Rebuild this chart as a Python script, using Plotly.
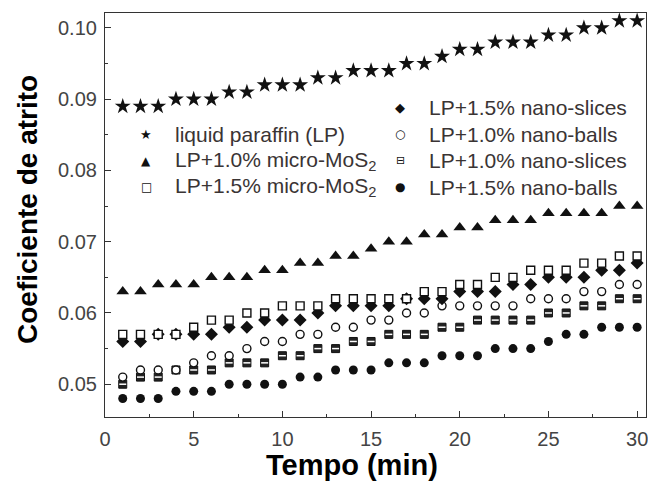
import plotly.graph_objects as go

# ---------------- data ----------------
tempo = list(range(1, 31))

liquid_paraffin = [0.089, 0.089, 0.089, 0.090, 0.090, 0.090, 0.091, 0.091, 0.092, 0.092,
                   0.092, 0.093, 0.093, 0.094, 0.094, 0.094, 0.095, 0.095, 0.096, 0.097,
                   0.097, 0.098, 0.098, 0.098, 0.099, 0.099, 0.100, 0.100, 0.101, 0.101]

micro_10 = [0.063, 0.063, 0.064, 0.064, 0.064, 0.065, 0.065, 0.065, 0.066, 0.066,
            0.067, 0.067, 0.068, 0.068, 0.069, 0.070, 0.070, 0.071, 0.071, 0.072,
            0.072, 0.073, 0.073, 0.073, 0.074, 0.074, 0.074, 0.074, 0.075, 0.075]

micro_15 = [0.057, 0.057, 0.057, 0.057, 0.058, 0.059, 0.059, 0.060, 0.060, 0.061,
            0.061, 0.061, 0.062, 0.062, 0.062, 0.062, 0.062, 0.063, 0.063, 0.064,
            0.064, 0.065, 0.065, 0.066, 0.066, 0.066, 0.067, 0.067, 0.068, 0.068]

slices_15 = [0.056, 0.056, 0.057, 0.057, 0.057, 0.057, 0.058, 0.058, 0.059, 0.059,
             0.059, 0.060, 0.061, 0.061, 0.061, 0.061, 0.062, 0.062, 0.062, 0.063,
             0.063, 0.063, 0.064, 0.064, 0.065, 0.065, 0.065, 0.066, 0.066, 0.067]

balls_10 = [0.051, 0.052, 0.052, 0.052, 0.053, 0.054, 0.054, 0.055, 0.056, 0.056,
            0.057, 0.057, 0.058, 0.058, 0.059, 0.059, 0.060, 0.060, 0.061, 0.061,
            0.061, 0.061, 0.061, 0.062, 0.062, 0.062, 0.063, 0.063, 0.064, 0.064]

slices_10 = [0.050, 0.051, 0.051, 0.052, 0.052, 0.052, 0.053, 0.053, 0.053, 0.054,
             0.054, 0.055, 0.055, 0.056, 0.056, 0.057, 0.057, 0.057, 0.058, 0.058,
             0.059, 0.059, 0.059, 0.059, 0.060, 0.060, 0.061, 0.061, 0.062, 0.062]

balls_15 = [0.048, 0.048, 0.048, 0.049, 0.049, 0.049, 0.050, 0.050, 0.050, 0.050,
            0.051, 0.051, 0.052, 0.052, 0.052, 0.053, 0.053, 0.053, 0.054, 0.054,
            0.054, 0.055, 0.055, 0.055, 0.056, 0.057, 0.057, 0.058, 0.058, 0.058]

x_ticks = [0, 5, 10, 15, 20, 25, 30]
y_ticks = [0.05, 0.06, 0.07, 0.08, 0.09, 0.10]
y_tick_labels = ["0.05", "0.06", "0.07", "0.08", "0.09", "0.10"]

legend_labels = ["liquid paraffin (LP)",
                 "LP+1.0% micro-MoS<sub>2</sub>",
                 "LP+1.5% micro-MoS<sub>2</sub>",
                 "LP+1.5% nano-slices",
                 "LP+1.0% nano-balls",
                 "LP+1.0% nano-slices",
                 "LP+1.5% nano-balls"]

# ---------------- figure ----------------
BLACK = "#111111"
fig = go.Figure()

def add(y, symbol, size, fill, line_w=0, line_c=BLACK):
    fig.add_trace(go.Scatter(
        x=tempo, y=y, mode="markers", showlegend=False, hoverinfo="skip",
        marker=dict(symbol=symbol, size=size, color=fill,
                    line=dict(width=line_w, color=line_c))))

add(liquid_paraffin, "star", 12, BLACK)
add(micro_10, "triangle-up", 11, BLACK)
add(balls_15, "circle", 9, BLACK)
add(slices_10, "square", 8, "#222222", 1, BLACK)
add(slices_10, "line-ew", 5, "white", 1.5, "white")
add(balls_10, "circle", 8, "white", 1.4)
add(slices_15, "diamond", 10, BLACK)
add(micro_15, "square", 8, "white", 1.4)

# ---------------- layout ----------------
L, R, T, B = 105, 646, 13, 417
W, H = 648, 482

def px(xp):
    return (xp - L) / (R - L)

def py(yp):
    return (B - yp) / (B - T)

annotations = []
FONT = "Liberation Sans, Arial, Helvetica, sans-serif"
SYMFONT = "DejaVu Sans"

# legend: (glyph, glyph size, glyph x, text x, y, label index)
legend_rows = [
    ("★", 13, 146, 173, 134, 0),
    ("▲", 12, 146, 173, 161, 1),
    ("□", 12, 146, 173, 187, 2),
    ("◆", 13, 400, 427, 107, 3),
    ("○", 12, 400, 427, 134, 4),
    ("⊟", 11, 400, 427, 160, 5),
    ("●", 12, 400, 427, 187, 6),
]
for g, gs, gx, tx, yy, idx in legend_rows:
    annotations.append(dict(text=g, x=px(gx), y=py(yy), xref="paper", yref="paper",
                            xanchor="center", yanchor="middle", showarrow=False,
                            font=dict(family=SYMFONT, size=gs, color=BLACK)))
    annotations.append(dict(text=legend_labels[idx], x=px(tx), y=py(yy), xref="paper",
                            yref="paper", xanchor="left", yanchor="middle", showarrow=False,
                            font=dict(family=FONT, size=21, color="#3a3434")))

annotations.append(dict(text="<b>Tempo (min)</b>", x=px(352), y=py(465), xref="paper",
                        yref="paper", xanchor="center", yanchor="middle", showarrow=False,
                        font=dict(family=FONT, size=29, color="black")))
annotations.append(dict(text="<b>Coeficiente de atrito</b>", x=px(27), y=py(210),
                        xref="paper", yref="paper", xanchor="center", yanchor="middle",
                        showarrow=False, textangle=-90,
                        font=dict(family=FONT, size=28, color="black")))

axis_common = dict(showgrid=False, zeroline=False, showline=True, linecolor="#333333",
                   linewidth=1.2, mirror=True, ticks="inside", ticklen=6, tickwidth=1,
                   tickcolor="#333333", automargin=False, ticklabeloverflow="allow",
                   tickfont=dict(family=FONT, size=20, color="#444444"))

fig.update_layout(
    width=W, height=H,
    margin=dict(l=L, r=W - R, t=T, b=H - B, autoexpand=False),
    paper_bgcolor="white", plot_bgcolor="white",
    showlegend=False,
    xaxis=dict(range=[0, 30.5], tickvals=x_ticks, ticklabelstandoff=4,
               minor=dict(dtick=2.5, tick0=0, ticks="inside", ticklen=3, tickcolor="#333333"),
               **axis_common),
    yaxis=dict(range=[0.0454, 0.1021], tickvals=y_ticks, ticktext=y_tick_labels,
               ticklabelstandoff=3,
               minor=dict(dtick=0.005, tick0=0, ticks="inside", ticklen=3, tickcolor="#333333"),
               **axis_common),
    annotations=annotations,
)

# remove the browser's default 8px page margin so the figure sits at the window's corner
fig.write_html("out.html", config={"displayModeBar": False},
               post_script="document.body.style.margin='0';document.body.style.overflow='hidden';")
